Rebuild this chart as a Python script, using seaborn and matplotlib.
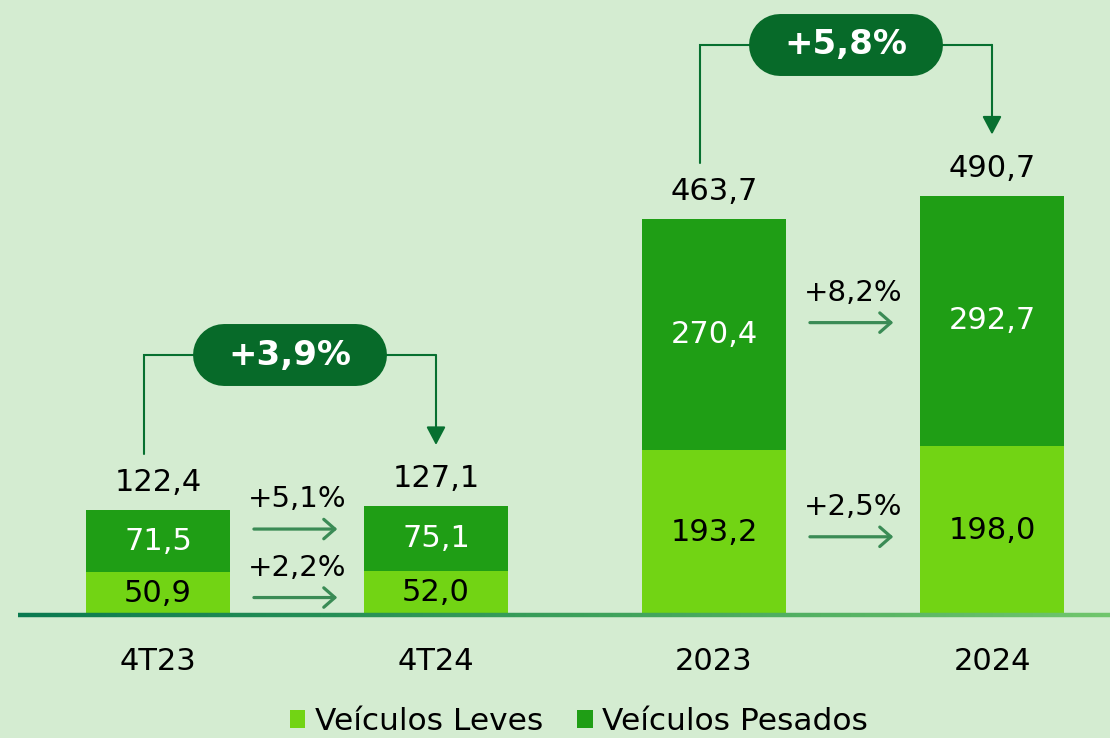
import numpy as np
import pandas as pd
import seaborn as sns
import matplotlib.pyplot as plt
from matplotlib.collections import LineCollection
from matplotlib.colors import LinearSegmentedColormap
from matplotlib.patches import Patch

periodos = ["4T23", "4T24", "2023", "2024"]
leves = [50.9, 52.0, 193.2, 198.0]
pesados = [71.5, 75.1, 270.4, 292.7]
totais = [122.4, 127.1, 463.7, 490.7]
var_leves = ["+2,2%", "+2,5%"]
var_pesados = ["+5,1%", "+8,2%"]
var_total = ["+3,9%", "+5,8%"]

BG = "#d4ecd1"
LIGHT = "#72d414"
DARK = "#1f9e15"
PILL = "#076a29"
LINE = "#077030"
ARROW = "#3a8b55"


def br(v):
    return f"{v:.1f}".replace(".", ",")


sns.set_theme(style="white")
plt.rcParams["font.family"] = ["DejaVu Sans"]
plt.rcParams["text.color"] = "black"

fig = plt.figure(figsize=(11.1, 7.38), dpi=100, facecolor=BG)
ax = fig.add_axes([18 / 1110, 123 / 738, 1092 / 1110, 615 / 738])
ax.set_facecolor(BG)

df = pd.DataFrame({"periodo": periodos, "leves": leves,
                   "pesados": pesados, "total": totais})

# stacked bars: total in dark, leves drawn over it
sns.barplot(data=df, x="periodo", y="total", color=DARK, width=0.52,
            saturation=1, errorbar=None, linewidth=0, ax=ax)
sns.barplot(data=df, x="periodo", y="leves", color=LIGHT, width=0.52,
            saturation=1, errorbar=None, linewidth=0, ax=ax)

ax.set_xlim(-140 / 278, 952 / 278)
ax.set_ylim(0, 615 / 0.8539)
ax.set_xlabel("")
ax.set_ylabel("")
ax.set_yticks([])
for s in ax.spines.values():
    s.set_visible(False)
ax.tick_params(axis="x", length=0, pad=23, labelsize=22, labelcolor="black")

# segment and total labels
for i in range(len(periodos)):
    ax.text(i, leves[i] / 2, br(leves[i]), ha="center", va="center",
            fontsize=22, color="black")
    ax.text(i, leves[i] + pesados[i] / 2, br(pesados[i]), ha="center",
            va="center", fontsize=22, color="white")
    ax.annotate(br(totais[i]), (i, totais[i]), xytext=(0, 20),
                textcoords="offset points", ha="center", va="center",
                fontsize=22, color="black")

# small arrows between pairs
for k, (a, b) in enumerate([(0, 1), (2, 3)]):
    mid = (a + b) / 2
    y_lev = leves[a] / 2 + 30
    y_pes = leves[a] + pesados[a] / 2 + 49
    for ty, lab in [(y_pes, var_pesados[k]), (y_lev, var_leves[k])]:
        ax.text(mid, ty, lab, ha="center", va="center", fontsize=21,
                color="black")
        ax.annotate("", xy=(mid + 0.145, ty - 35), xytext=(mid - 0.155, ty - 35),
                    arrowprops=dict(arrowstyle="->,head_length=0.4,head_width=0.35",
                                    color=ARROW, lw=2.3, mutation_scale=20,
                                    shrinkA=0, shrinkB=0))

    # bracket with pill
    top = max(totais[a], totais[b]) + 177
    xl = a - 0.05
    xr = b
    xc = mid - 0.025
    ax.plot([xl, xl, xr], [totais[a] + 66, top, top], color=LINE, lw=1.5,
            solid_joinstyle="miter")
    ax.annotate("", xy=(xr, totais[b] + 72), xytext=(xr, top),
                arrowprops=dict(arrowstyle="-|>,head_length=0.85,head_width=0.45",
                                color=LINE, lw=1.5, mutation_scale=13,
                                shrinkA=0, shrinkB=0))
    ax.plot([xc - 0.2374, xc + 0.2374], [top, top], color=PILL, lw=44.6,
            solid_capstyle="round")
    ax.text(xc, top, var_total[k], ha="center", va="center", fontsize=24.5,
            fontweight="bold", color="white")

# gradient baseline
xs = np.linspace(0, 1, 300)
segs = [[(xs[j], 0), (xs[j + 1], 0)] for j in range(len(xs) - 1)]
cmap = LinearSegmentedColormap.from_list("base", ["#0a7a50", "#3a9f5a", "#70c66c"])
lc = LineCollection(segs, colors=cmap(xs[:-1]), linewidths=3.2,
                    transform=ax.transAxes, clip_on=False, capstyle="butt")
ax.add_collection(lc)

handles = [Patch(facecolor=LIGHT, edgecolor="none"),
           Patch(facecolor=DARK, edgecolor="none")]
fig.legend(handles, ["Veículos Leves", "Veículos Pesados"], loc="center",
           bbox_to_anchor=(0.5216, 0.0217), ncol=2, frameon=False, fontsize=22.5,
           labelcolor="black", handlelength=0.5, handleheight=0.5,
           handletextpad=0.3, columnspacing=1.1, borderpad=0, borderaxespad=0)

fig.savefig("out.png", dpi=100, facecolor=BG)
